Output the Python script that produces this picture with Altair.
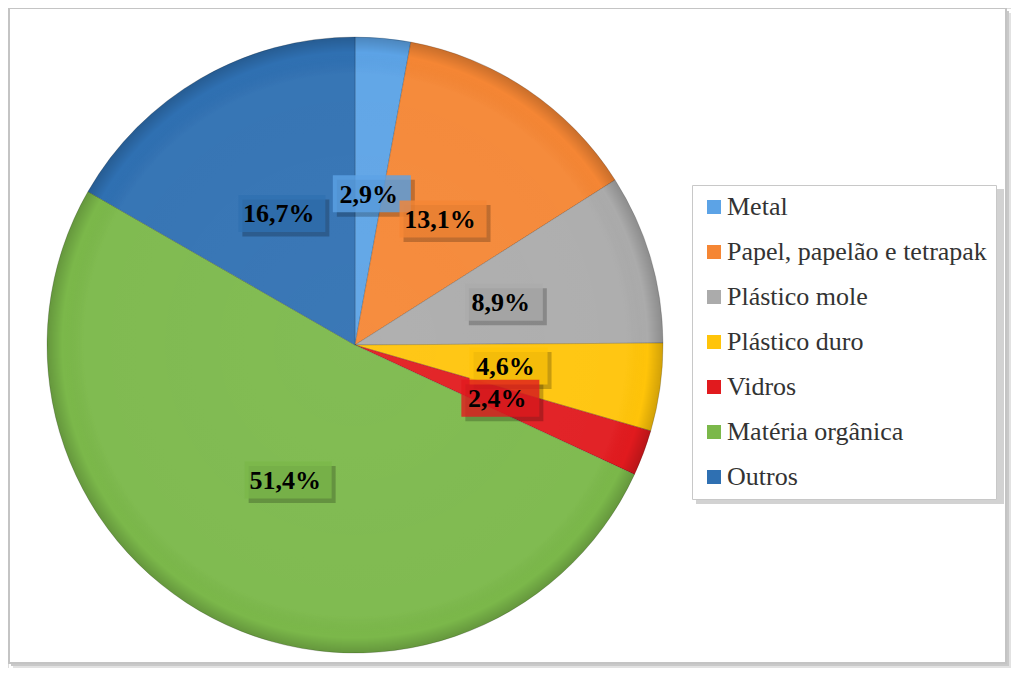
import math
import altair as alt
import pandas as pd

categories = ["Metal", "Papel, papelão e tetrapak", "Plástico mole", "Plástico duro",
              "Vidros", "Matéria orgânica", "Outros"]
values = [2.9, 13.1, 8.9, 4.6, 2.4, 51.4, 16.7]
labels = ["2,9%", "13,1%", "8,9%", "4,6%", "2,4%", "51,4%", "16,7%"]
colors = ["#5CA3E6", "#F58634", "#ABABAB", "#FFC409", "#E11A1E", "#7BB84A", "#2F70B2"]

df = pd.DataFrame({"cat": categories, "value": values, "label": labels,
                   "order": list(range(len(categories)))})

W, H = 1003, 660
CX, CY, R = 347, 337, 308
LR = 152
SERIF = "Liberation Serif, Times New Roman, serif"

color_scale = alt.Scale(domain=categories, range=colors)
one = pd.DataFrame({"a": [0]})

# frame with shadow
frame_sh2 = alt.Chart(one).mark_rect(fill="#e2e2e2").encode(
    x=alt.value(5), x2=alt.value(1003), y=alt.value(5), y2=alt.value(660))
frame_sh1 = alt.Chart(one).mark_rect(fill="#c9c9c9").encode(
    x=alt.value(3), x2=alt.value(1001), y=alt.value(3), y2=alt.value(658))
frame = alt.Chart(one).mark_rect(fill="white", stroke="#c4c4c4", strokeWidth=2).encode(
    x=alt.value(1), x2=alt.value(998), y=alt.value(0), y2=alt.value(655))

# legend shadow
leg_sh = alt.Chart(one).mark_rect(fill="#d2d2d2").encode(
    x=alt.value(688), x2=alt.value(996), y=alt.value(181), y2=alt.value(496))

pie = alt.Chart(df).mark_arc(radius=R, stroke="#000000", strokeWidth=1, strokeOpacity=0.18).encode(
    theta=alt.Theta("value:Q", stack=True),
    color=alt.Color("cat:N", scale=color_scale, sort=categories,
                    legend=alt.Legend(title=None, orient="none", legendX=684, legendY=177,
                                      direction="vertical", labelFont=SERIF,
                                      labelFontSize=26, labelColor="#333333",
                                      symbolType="square", symbolSize=196,
                                      symbolStrokeWidth=0, rowPadding=19, padding=9,
                                      fillColor="white", strokeColor="#c8c8c8",
                                      labelOffset=0, labelLimit=400)),
    order=alt.Order("order:Q"),
    x=alt.value(CX), y=alt.value(CY),
)

overlay = alt.Chart(one).mark_arc(
    theta=0, theta2=2 * math.pi, radius=R,
    fill=alt.RadialGradient(gradient="radial", stops=[
        alt.GradientStop(offset=0, color="rgba(255,255,255,0.06)"),
        alt.GradientStop(offset=0.88, color="rgba(255,255,255,0.04)"),
        alt.GradientStop(offset=0.95, color="rgba(0,0,0,0)"),
        alt.GradientStop(offset=1, color="rgba(0,0,0,0.18)"),
    ])
).encode(x=alt.value(CX), y=alt.value(CY))

lab = alt.Chart(df).transform_joinaggregate(total="sum(value)").transform_window(
    cum="sum(value)", sort=[alt.SortField("order")], frame=[None, 0]
).transform_calculate(
    ang="2*PI*(datum.cum - datum.value/2)/datum.total",
    px=f"{CX} + {LR}*sin(datum.ang)",
    py=f"{CY} - {LR}*cos(datum.ang)",
    hw="21 + 4.5*length(datum.label)",
).transform_calculate(
    bx1="datum.px - datum.hw + 3", bx2="datum.px + datum.hw + 3",
    by1="datum.py - 18.5", by2="datum.py + 18.5",
    sx1="datum.px - datum.hw + 7", sx2="datum.px + datum.hw + 7",
    sy1="datum.py - 14", sy2="datum.py + 23",
)

shadows = lab.mark_rect(fill="black", opacity=0.22).encode(
    x=alt.X("sx1:Q", scale=None, axis=None), x2="sx2:Q",
    y=alt.Y("sy1:Q", scale=None, axis=None), y2="sy2:Q",
)
boxes = lab.mark_rect(opacity=0.8).encode(
    x=alt.X("bx1:Q", scale=None, axis=None), x2="bx2:Q",
    y=alt.Y("by1:Q", scale=None, axis=None), y2="by2:Q",
    color=alt.Color("cat:N", scale=color_scale, legend=None),
)
texts = lab.mark_text(font=SERIF, fontWeight="bold", fontSize=26,
                      align="center", baseline="middle", color="black", dy=1).encode(
    x=alt.X("px:Q", scale=None, axis=None),
    y=alt.Y("py:Q", scale=None, axis=None),
    text="label:N",
)

chart = alt.layer(frame_sh2, frame_sh1, frame, leg_sh, pie, overlay, shadows, boxes, texts).properties(
    width=W, height=H, autosize=alt.AutoSizeParams(type="none"), padding=0,
    background="white",
).configure_view(stroke=None).configure(font=SERIF)

chart.save("out.html", embed_options={"renderer": "svg", "actions": False})
